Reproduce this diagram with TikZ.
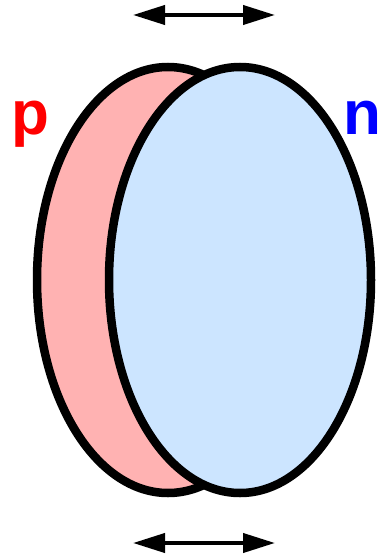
\documentclass[tikz,border=0pt]{standalone}
\usepackage{fontspec}
\setmainfont{Liberation Sans}
\usepackage{tikz}
\usetikzlibrary{arrows.meta, positioning}
\definecolor{proton-fill}{RGB}{255, 178, 178}
\definecolor{neutron-fill}{RGB}{204, 229, 255}

\begin{document}
\begin{tikzpicture}[
  x=1pt, y=-1pt,
  nucleon/.style={draw=black,line width=8.5pt},
  label/.style={inner sep=0pt,anchor=base,font=\fontsize{62}{62}\selectfont\bfseries},
  vib/.style={line width=4pt,{Triangle[length=32pt,width=19pt]}-{Triangle[length=32pt,width=19pt]}}
]
  \useasboundingbox (0,0) rectangle (380,556);

  \draw[nucleon, fill=proton-fill]  (168,280) ellipse [x radius=131pt, y radius=213pt];
  \draw[nucleon, fill=neutron-fill] (240,280) ellipse [x radius=131pt, y radius=213pt];

  \node[label, text=red]  (p) at (30,135)  {p};
  \node[label, text=blue] (n) at (362,135) {n};

  \coordinate (top-l) at (133,15);
  \coordinate (top-r) at (275,15);
  \coordinate (bot-l) at (133,543);
  \coordinate (bot-r) at (275,543);

  \draw[vib] (top-l) -- (top-r);
  \draw[vib] (bot-l) -- (bot-r);
\end{tikzpicture}
\end{document}
